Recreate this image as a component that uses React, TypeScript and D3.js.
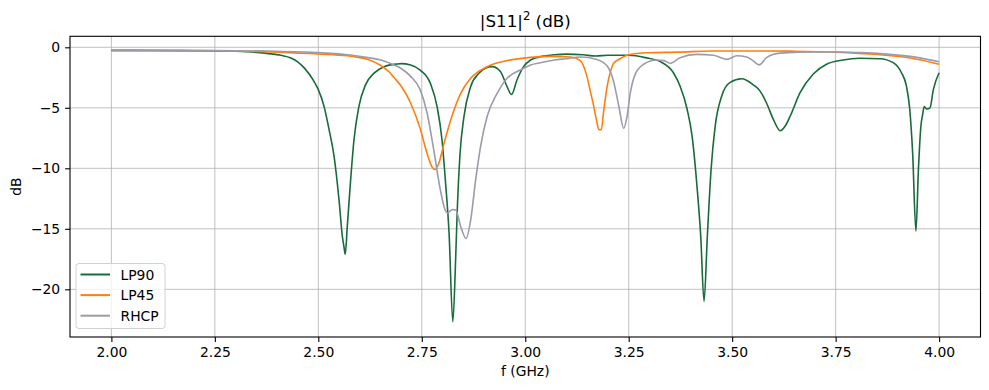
import React, { useEffect, useRef } from 'react';
import * as d3 from 'd3';

// LP90 readings (GHz, dB)
const lp90Freq = [
  2.0, 2.1, 2.2, 2.25, 2.3, 2.35, 2.38, 2.41, 2.434, 2.45, 2.466, 2.49, 2.5,
  2.514, 2.526, 2.538, 2.55, 2.558, 2.562, 2.565, 2.57, 2.578, 2.586, 2.598,
  2.614, 2.634, 2.659, 2.69, 2.7, 2.723, 2.746, 2.771, 2.787, 2.799, 2.807,
  2.816, 2.825, 2.832, 2.836, 2.842, 2.852, 2.868, 2.888, 2.905, 2.92, 2.94,
  2.956, 2.967, 2.98, 2.996, 3.013, 3.04, 3.07, 3.1, 3.14, 3.17, 3.2, 3.25,
  3.29, 3.33, 3.358, 3.374, 3.391, 3.403, 3.415, 3.424, 3.432, 3.44, 3.449,
  3.459, 3.475, 3.495, 3.523, 3.551, 3.567, 3.583, 3.6, 3.616, 3.63, 3.64,
  3.664, 3.696, 3.728, 3.768, 3.808, 3.857, 3.889, 3.909, 3.921, 3.929, 3.936,
  3.944, 3.95, 3.956, 3.96, 3.964, 3.97, 3.978, 3.986, 4.0,
];
const lp90 = [
  -0.25, -0.26, -0.28, -0.3, -0.33, -0.42, -0.52, -0.66, -0.88, -1.2, -1.7,
  -2.84, -3.5, -4.9, -6.8, -9.0, -12.6, -15.6, -16.5, -17.1, -14.8, -11.0,
  -7.7, -4.9, -3.1, -2.15, -1.6, -1.38, -1.35, -1.46, -1.88, -3.0, -4.9, -7.7,
  -11.0, -15.4, -22.7, -17.3, -13.2, -9.0, -5.7, -3.25, -2.15, -1.7, -1.6,
  -2.0, -3.25, -3.9, -2.7, -1.6, -1.05, -0.75, -0.62, -0.56, -0.62, -0.72,
  -0.66, -0.66, -0.85, -1.25, -2.1, -3.2, -5.1, -7.3, -11.5, -15.6, -21.0,
  -15.6, -10.1, -6.5, -4.0, -2.9, -2.6, -3.1, -3.6, -4.6, -6.0, -6.9, -6.4,
  -5.7, -3.75, -2.2, -1.4, -1.05, -0.91, -0.94, -1.27, -2.1, -3.2, -5.1, -8.7,
  -15.2, -10.1, -6.5, -5.6, -4.9, -5.1, -5.0, -3.5, -2.1,
];

// LP45 readings
const lp45Freq = [
  2.0, 2.25, 2.4, 2.5, 2.57, 2.6, 2.62, 2.651, 2.67, 2.683, 2.7, 2.723, 2.746,
  2.763, 2.775, 2.781, 2.791, 2.804, 2.82, 2.844, 2.868, 2.908, 2.956, 3.013,
  3.06, 3.11, 3.133, 3.149, 3.157, 3.165, 3.172, 3.178, 3.184, 3.189, 3.198,
  3.206, 3.214, 3.229, 3.25, 3.294, 3.37, 3.45, 3.55, 3.65, 3.75, 3.85, 3.95,
  4.0,
];
const lp45 = [
  -0.25, -0.28, -0.4, -0.55, -0.7, -0.85, -1.0, -1.5, -2.0, -2.5, -3.2, -4.6,
  -6.7, -8.8, -9.9, -10.1, -9.6, -7.9, -6.0, -3.8, -2.56, -1.6, -1.1, -0.83,
  -0.75, -0.8, -1.1, -2.4, -3.6, -4.8, -6.0, -6.8, -6.8, -5.4, -3.2, -2.0,
  -1.3, -0.95, -0.62, -0.45, -0.4, -0.31, -0.3, -0.32, -0.4, -0.6, -1.0, -1.4,
];

// RHCP readings
const rhcpFreq = [
  2.0, 2.25, 2.4, 2.5, 2.578, 2.62, 2.651, 2.683, 2.7, 2.723, 2.746, 2.763,
  2.779, 2.795, 2.806, 2.812, 2.824, 2.832, 2.844, 2.857, 2.868, 2.88, 2.892,
  2.908, 2.932, 2.956, 2.988, 3.013, 3.037, 3.07, 3.1, 3.133, 3.173, 3.198,
  3.214, 3.226, 3.238, 3.246, 3.254, 3.266, 3.286, 3.318, 3.335, 3.35, 3.374,
  3.415, 3.455, 3.487, 3.511, 3.535, 3.55, 3.565, 3.583, 3.6, 3.616, 3.7,
  3.75, 3.85, 3.95, 4.0,
];
const rhcp = [
  -0.25, -0.27, -0.33, -0.44, -0.64, -0.85, -1.05, -1.46, -1.75, -2.4, -3.5,
  -5.45, -8.5, -11.8, -13.4, -13.7, -13.4, -13.45, -14.8, -15.8, -14.3, -11.0,
  -8.2, -5.7, -3.8, -2.56, -1.88, -1.46, -1.27, -1.05, -0.94, -0.8, -1.0,
  -1.55, -2.9, -4.85, -6.7, -5.7, -3.75, -2.2, -1.4, -1.05, -1.1, -1.32,
  -0.86, -0.58, -0.66, -1.0, -0.7, -0.8, -1.1, -1.45, -0.86, -0.58, -0.48,
  -0.38, -0.39, -0.5, -0.85, -1.2,
];

const xTicks = [2.0, 2.25, 2.5, 2.75, 3.0, 3.25, 3.5, 3.75, 4.0];
const yTicks = [0, -5, -10, -15, -20];

const series = [
  { name: 'LP90', freq: lp90Freq, values: lp90, color: '#186b3b' },
  { name: 'LP45', freq: lp45Freq, values: lp45, color: '#ff7f0e' },
  { name: 'RHCP', freq: rhcpFreq, values: rhcp, color: '#9b9bab' },
];

export default function App() {
  const svgRef = useRef<SVGSVGElement | null>(null);

  const width = 989;
  const height = 390;
  const margin = { top: 36.3, right: 8.5, bottom: 53, left: 70 };
  const innerWidth = width - margin.left - margin.right;
  const innerHeight = height - margin.top - margin.bottom;
  const font = 'DejaVu Sans, sans-serif';

  useEffect(() => {
    const svg = d3.select(svgRef.current);
    svg.selectAll('*').remove();

    const xScale = d3.scaleLinear().domain([1.9, 4.1]).range([0, innerWidth]);
    const yScale = d3
      .scaleLinear()
      .domain([-23.94, 0.91])
      .range([innerHeight, 0]);

    const g = svg
      .append('g')
      .attr('transform', `translate(${margin.left},${margin.top})`);

    // grid
    g.append('g')
      .selectAll('line')
      .data(xTicks)
      .enter()
      .append('line')
      .attr('x1', (d) => xScale(d))
      .attr('x2', (d) => xScale(d))
      .attr('y1', 0)
      .attr('y2', innerHeight)
      .style('stroke', '#b0b0b0')
      .style('stroke-width', 0.8);

    g.append('g')
      .selectAll('line')
      .data(yTicks)
      .enter()
      .append('line')
      .attr('x1', 0)
      .attr('x2', innerWidth)
      .attr('y1', (d) => yScale(d))
      .attr('y2', (d) => yScale(d))
      .style('stroke', '#b0b0b0')
      .style('stroke-width', 0.8);

    // curves
    const line = d3
      .line<[number, number]>()
      .x((d) => xScale(d[0]))
      .y((d) => yScale(d[1]))
      .curve(d3.curveMonotoneX);

    series.forEach((s) => {
      const pts = s.freq.map((f, i) => [f, s.values[i]] as [number, number]);
      g.append('path')
        .datum(pts)
        .attr('d', line)
        .style('fill', 'none')
        .style('stroke', s.color)
        .style('stroke-width', 1.6)
        .style('stroke-linejoin', 'round');
    });

    // axes
    const xAxis = d3
      .axisBottom(xScale)
      .tickValues(xTicks)
      .tickFormat((d) => d3.format('.2f')(d as number))
      .tickSizeInner(4.9)
      .tickSizeOuter(0)
      .tickPadding(4.9);
    const yAxis = d3
      .axisLeft(yScale)
      .tickValues(yTicks)
      .tickFormat((d) => String(d).replace('-', '\u2212'))
      .tickSizeInner(4.9)
      .tickSizeOuter(0)
      .tickPadding(4.9);

    const xg = g
      .append('g')
      .attr('transform', `translate(0,${innerHeight})`)
      .call(xAxis);
    const yg = g.append('g').call(yAxis);
    [xg, yg].forEach((a) => {
      a.select('.domain').remove();
      a.selectAll('line').style('stroke', '#000').style('stroke-width', 1.1);
      a.selectAll('text')
        .style('font-family', font)
        .style('font-size', '13.9px')
        .style('fill', '#000');
    });

    // frame
    g.append('rect')
      .attr('width', innerWidth)
      .attr('height', innerHeight)
      .style('fill', 'none')
      .style('stroke', '#000')
      .style('stroke-width', 1.1);

    // title
    const title = svg
      .append('text')
      .attr('x', margin.left + innerWidth / 2)
      .attr('y', 27)
      .attr('text-anchor', 'middle')
      .style('font-family', font)
      .style('font-size', '16.7px');
    title.append('tspan').text('|S11|');
    title
      .append('tspan')
      .attr('dy', -7)
      .style('font-size', '11.7px')
      .text('2');
    title.append('tspan').attr('dy', 7).text(' (dB)');

    svg
      .append('text')
      .attr('x', margin.left + innerWidth / 2)
      .attr('y', 376)
      .attr('text-anchor', 'middle')
      .style('font-family', font)
      .style('font-size', '13.9px')
      .text('f (GHz)');

    svg
      .append('text')
      .attr('transform', `translate(21,${margin.top + innerHeight / 2}) rotate(-90)`)
      .attr('text-anchor', 'middle')
      .style('font-family', font)
      .style('font-size', '13.9px')
      .text('dB');

    // legend
    const lg = svg.append('g').attr('transform', 'translate(76,263.5)');
    lg.append('rect')
      .attr('width', 89)
      .attr('height', 65)
      .attr('rx', 3)
      .style('fill', 'rgba(255,255,255,0.8)')
      .style('stroke', '#d0d0d0')
      .style('stroke-width', 1);
    series.forEach((s, i) => {
      const y = 11 + i * 20.6;
      lg.append('line')
        .attr('x1', 4.5)
        .attr('x2', 34)
        .attr('y1', y)
        .attr('y2', y)
        .style('stroke', s.color)
        .style('stroke-width', 2);
      lg.append('text')
        .attr('x', 44.5)
        .attr('y', y + 5)
        .style('font-family', font)
        .style('font-size', '13.9px')
        .text(s.name);
    });
  }, [innerWidth, innerHeight, margin.left, margin.top]);

  return (
    <svg
      ref={svgRef}
      width={width}
      height={height}
      style={{ position: 'absolute', left: 0, top: 0, background: '#fff' }}
    />
  );
}
